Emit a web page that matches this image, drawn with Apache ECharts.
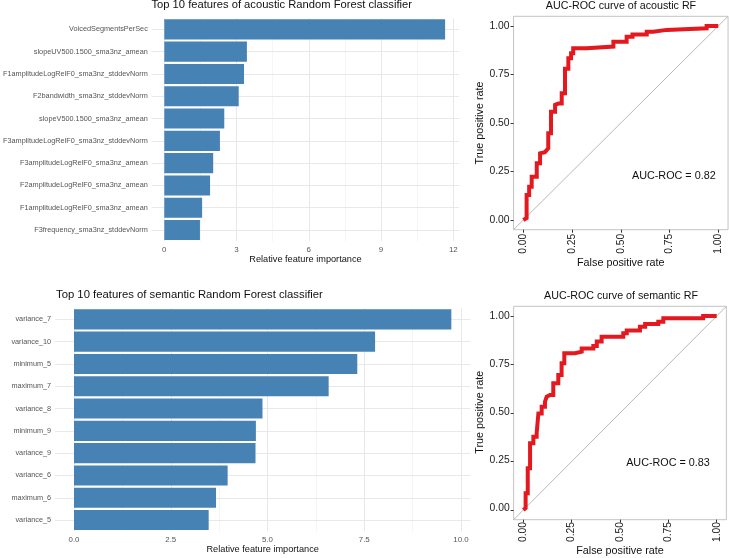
<!DOCTYPE html>
<html>
<head>
<meta charset="utf-8">
<script src="https://cdn.jsdelivr.net/npm/echarts@6/dist/echarts.min.js"></script>
<style>
html,body{margin:0;padding:0;background:#fff;}
#chart{width:729px;height:558px;}
</style>
</head>
<body>
<div id="chart"></div>
<script>
// ---- data ----
const acFeatures = ['VoicedSegmentsPerSec', 'slopeUV500.1500_sma3nz_amean', 'F1amplitudeLogRelF0_sma3nz_stddevNorm',
  'F2bandwidth_sma3nz_stddevNorm', 'slopeV500.1500_sma3nz_amean', 'F3amplitudeLogRelF0_sma3nz_stddevNorm',
  'F3amplitudeLogRelF0_sma3nz_amean', 'F2amplitudeLogRelF0_sma3nz_amean', 'F1amplitudeLogRelF0_sma3nz_amean',
  'F3frequency_sma3nz_stddevNorm'];
const acImportance = [11.66, 3.43, 3.31, 3.09, 2.49, 2.31, 2.03, 1.90, 1.57, 1.48];
const seFeatures = ['variance_7', 'variance_10', 'minimum_5', 'maximum_7', 'variance_8', 'minimum_9',
  'variance_9', 'variance_6', 'maximum_6', 'variance_5'];
const seImportance = [9.75, 7.78, 7.32, 6.58, 4.87, 4.70, 4.69, 3.97, 3.67, 3.48];
const acTicks = [0, 3, 6, 9, 12];
const seTicks = [0, 2.5, 5, 7.5, 10];
const rocTicks = [0, 0.25, 0.5, 0.75, 1];

const acFpr = [0, 0.017, 0.017, 0.03, 0.03, 0.043, 0.043, 0.069, 0.069, 0.086, 0.086, 0.111, 0.128, 0.128, 0.142, 0.142,
  0.163, 0.163, 0.18, 0.197, 0.197, 0.214, 0.214, 0.231, 0.231, 0.245, 0.245, 0.256, 0.256, 0.325, 0.325, 0.462, 0.462,
  0.53, 0.53, 0.56, 0.56, 0.633, 0.633, 0.667, 0.667, 0.735, 0.735, 0.94, 0.94, 1.0];
const acTpr = [0, 0.01, 0.129, 0.129, 0.172, 0.172, 0.223, 0.223, 0.292, 0.292, 0.344, 0.35, 0.37, 0.447, 0.447, 0.558,
  0.558, 0.593, 0.60, 0.60, 0.653, 0.653, 0.78, 0.78, 0.834, 0.834, 0.86, 0.86, 0.885, 0.885, 0.894, 0.894, 0.919,
  0.919, 0.945, 0.945, 0.956, 0.956, 0.97, 0.97, 0.98, 0.98, 0.988, 0.988, 1.0, 1.0];
const seFpr = [0, 0.012, 0.012, 0.023, 0.023, 0.035, 0.035, 0.052, 0.052, 0.069, 0.069, 0.078, 0.078, 0.095, 0.095,
  0.112, 0.112, 0.121, 0.121, 0.138, 0.155, 0.155, 0.181, 0.181, 0.198, 0.198, 0.212, 0.212, 0.267, 0.267, 0.302, 0.302,
  0.362, 0.362, 0.38, 0.38, 0.405, 0.405, 0.517, 0.517, 0.535, 0.535, 0.603, 0.603, 0.63, 0.63, 0.698, 0.698, 0.724,
  0.724, 0.93, 0.93, 1.0];
const seTpr = [0, 0.01, 0.086, 0.086, 0.215, 0.215, 0.344, 0.344, 0.378, 0.378, 0.395, 0.395, 0.498, 0.498, 0.532,
  0.532, 0.558, 0.558, 0.584, 0.593, 0.593, 0.653, 0.653, 0.696, 0.696, 0.756, 0.756, 0.808, 0.808, 0.816, 0.816, 0.833,
  0.833, 0.845, 0.845, 0.868, 0.868, 0.893, 0.893, 0.911, 0.911, 0.925, 0.925, 0.945, 0.945, 0.959, 0.959, 0.97, 0.97,
  0.988, 0.988, 1.0, 1.0];

// ---- layout ----
const W = 729, H = 558;
const FONT = 'Liberation Sans';
const GRID_MAJOR = '#e8e8e8', GRID_MINOR = '#efefef';
const LABEL_GRAY = '#555';

function barLayout(zeroX, maxX, maxTick, top, bottom, maxVal) {
  const unit = (maxX - zeroX) / maxTick;
  const lo = -0.05 * maxVal, hi = 1.05 * maxVal;
  return {
    a: { left: zeroX + lo * unit, right: W - (zeroX + hi * unit), top: top, bottom: H - bottom },
    b: { left: zeroX, right: W - maxX, top: top, bottom: H - bottom },
    lo: lo, hi: hi
  };
}
const topBar = barLayout(164.3, 453.3, 12, 18.2, 241.2, Math.max(...acImportance));
const botBar = barLayout(74, 461, 10, 308.2, 531.2, Math.max(...seImportance));

function rocLayout(x0, x1, y1, y0) { // pixel positions of 0 and 1
  const ux = (x1 - x0), uy = (y0 - y1);
  return {
    q: { left: x0, right: W - x1, top: y1, bottom: H - y0 },
    p: { left: x0 - 0.05 * ux, right: W - (x1 + 0.05 * ux), top: y1 - 0.05 * uy, bottom: H - (y0 + 0.05 * uy) },
    offX: 0.05 * uy, offY: 0.05 * ux
  };
}
const topRoc = rocLayout(523.3, 718.3, 26, 220);
const botRoc = rocLayout(523.3, 716.7, 316, 510);

const grids = [topBar.a, topBar.b, botBar.a, botBar.b,
  Object.assign({ show: true, borderColor: '#c4c4c4', borderWidth: 1, backgroundColor: 'transparent' }, topRoc.p), topRoc.q,
  Object.assign({ show: true, borderColor: '#c4c4c4', borderWidth: 1, backgroundColor: 'transparent' }, botRoc.p), botRoc.q];

function panelX(gi, lo, hi) {
  return { gridIndex: gi, type: 'value', min: lo, max: hi, axisLine: { show: false, onZero: false }, axisTick: { show: false },
    axisLabel: { show: false }, splitLine: { show: false },
    name: 'Relative feature importance', nameLocation: 'middle', nameGap: 14,
    nameTextStyle: { fontSize: 9.2, color: '#111', fontFamily: FONT } };
}
function valueX(gi, max, interval, fmt) {
  return { gridIndex: gi, type: 'value', min: 0, max: max, interval: interval,
    axisLine: { show: false, onZero: false }, axisTick: { show: false },
    axisLabel: { fontSize: 7.9, color: LABEL_GRAY, margin: 5, fontFamily: FONT, formatter: fmt },
    splitLine: { show: true, lineStyle: { color: GRID_MAJOR, width: 1 } },
    minorTick: { show: false, splitNumber: 2 },
    minorSplitLine: { show: true, lineStyle: { color: GRID_MINOR, width: 0.6 } } };
}
function catY(gi, names, show) {
  return { gridIndex: gi, type: 'category', inverse: true, data: names, show: show,
    axisLine: { show: false, onZero: false }, axisTick: { show: false },
    axisLabel: { fontSize: 7.3, color: LABEL_GRAY, margin: 4, fontFamily: FONT },
    splitLine: { show: false } };
}
// panel axes (full expanded range) carry only the tick marks
function panelVal(gi) {
  return { gridIndex: gi, type: 'value', min: -0.05, max: 1.05, show: true,
    axisLine: { show: false, onZero: false }, axisLabel: { show: false }, splitLine: { show: false },
    axisTick: { show: true, length: 3, customValues: rocTicks, lineStyle: { color: '#333', width: 1 } } };
}
const rocFmt = v => v.toFixed(2);
function rocX(gi, off) {
  return { gridIndex: gi, type: 'value', min: 0, max: 1, interval: 0.25, offset: off,
    axisLine: { show: false, onZero: false }, axisTick: { show: false },
    axisLabel: { rotate: 90, fontSize: 10.3, color: '#222', margin: 4, formatter: rocFmt, fontFamily: FONT },
    splitLine: { show: false },
    name: 'False positive rate', nameLocation: 'middle', nameGap: 24,
    nameTextStyle: { fontSize: 10.8, color: '#111', fontFamily: FONT } };
}
function rocY(gi, off) {
  return { gridIndex: gi, type: 'value', min: 0, max: 1, interval: 0.25, offset: off,
    axisLine: { show: false, onZero: false }, axisTick: { show: false },
    axisLabel: { fontSize: 10.3, color: '#222', margin: 4, formatter: rocFmt, fontFamily: FONT },
    splitLine: { show: false },
    name: 'True positive rate', nameLocation: 'middle', nameGap: 26.5, nameRotate: 90,
    nameTextStyle: { fontSize: 10.8, color: '#111', fontFamily: FONT } };
}

const xAxes = [
  panelX(0, topBar.lo, topBar.hi),
  valueX(1, acTicks[acTicks.length - 1], acTicks[1] - acTicks[0], v => String(v)),
  panelX(2, botBar.lo, botBar.hi),
  valueX(3, seTicks[seTicks.length - 1], seTicks[1] - seTicks[0], v => v.toFixed(1)),
  panelVal(4), rocX(5, topRoc.offX), panelVal(6), rocX(7, botRoc.offX)
];
const yAxes = [
  catY(0, acFeatures, true), catY(1, acFeatures, false),
  catY(2, seFeatures, true), catY(3, seFeatures, false),
  panelVal(4), rocY(5, topRoc.offY), panelVal(6), rocY(7, botRoc.offY)
];

function gridLinesSeries(ai, names) {
  return { type: 'line', xAxisIndex: ai, yAxisIndex: ai, data: [], silent: true,
    markLine: { z: 1, silent: true, symbol: ['none', 'none'], label: { show: false }, animation: false,
      lineStyle: { color: GRID_MAJOR, width: 1, type: 'solid' },
      data: names.map(n => ({ yAxis: n })) } };
}
function barSeries(ai, vals) {
  return { type: 'bar', xAxisIndex: ai, yAxisIndex: ai, data: vals, z: 10,
    barCategoryGap: '10%', itemStyle: { color: '#4682b4' } };
}
function diagSeries(ai) {
  return { type: 'line', xAxisIndex: ai, yAxisIndex: ai, data: [[-0.05, -0.05], [1.05, 1.05]],
    showSymbol: false, silent: true, lineStyle: { color: '#b8b8b8', width: 1 }, z: 2 };
}
function rocSeries(ai, fpr, tpr) {
  return { type: 'line', xAxisIndex: ai, yAxisIndex: ai, data: fpr.map((f, i) => [f, tpr[i]]),
    showSymbol: false, silent: true, lineStyle: { color: '#e3191f', width: 4, join: 'miter' }, z: 3 };
}

function ttl(text, left, top, size, align) {
  return { text: text, left: left, top: top, padding: 0, textAlign: align || 'center',
    textStyle: { fontSize: size, fontWeight: 'normal', color: '#111', fontFamily: FONT } };
}

const option = {
  animation: false,
  textStyle: { fontFamily: FONT },
  title: [
    ttl('Top 10 features of acoustic Random Forest classifier', 281.7, -0.6, 11.2),
    ttl('AUC-ROC curve of acoustic RF', 621, 0.6, 10.7),
    ttl('Top 10 features of semantic Random Forest classifier', 56, 289.4, 11.3, 'left'),
    ttl('AUC-ROC curve of semantic RF', 621, 290.6, 10.7),
    ttl('AUC-ROC = 0.82', 673.8, 170.3, 10.8),
    ttl('AUC-ROC = 0.83', 668, 457.9, 10.8)
  ],
  grid: grids,
  xAxis: xAxes,
  yAxis: yAxes,
  series: [
    gridLinesSeries(0, acFeatures), barSeries(1, acImportance),
    gridLinesSeries(2, seFeatures), barSeries(3, seImportance),
    diagSeries(4), rocSeries(4, acFpr, acTpr),
    diagSeries(6), rocSeries(6, seFpr, seTpr)
  ]
};
const chart = echarts.init(document.getElementById('chart'), null, { renderer: 'canvas' });
chart.setOption(option);
</script>
</body>
</html>
